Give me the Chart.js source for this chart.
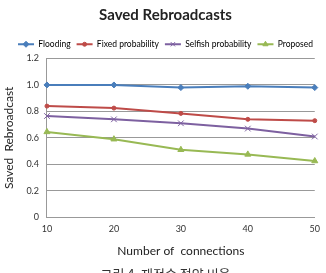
<!DOCTYPE html>
<html>
<head>
<meta charset="utf-8">
<script src="https://cdn.jsdelivr.net/npm/chart.js@4.4.1/dist/chart.umd.min.js"></script>
<style>
  html, body { margin: 0; padding: 0; background: #fff; overflow: hidden; }
  #wrap { width: 326px; height: 273px; overflow: hidden; }
</style>
</head>
<body>
<div id="wrap"><canvas id="chart" width="326" height="282"></canvas></div>
<script>
const connections = ["10", "20", "30", "40", "50"];
const flooding = [1.0, 1.0, 0.98, 0.99, 0.98];
const fixedProb = [0.84, 0.825, 0.785, 0.74, 0.73];
const selfishProb = [0.765, 0.74, 0.71, 0.67, 0.61];
const proposed = [0.645, 0.59, 0.51, 0.475, 0.425];
const yTicks = [0, 0.2, 0.4, 0.6, 0.8, 1, 1.2];

const font = "Lato, 'Open Sans', sans-serif";

function series(label, data, color, style, radius) {
  return {
    label: label,
    data: data,
    borderColor: color,
    backgroundColor: color,
    borderWidth: 2,
    pointStyle: style,
    pointRadius: radius,
    pointBorderWidth: 1,
    tension: 0,
    fill: false
  };
}

// draw the series marker on top of the legend line
const legendMarkers = {
  id: "legendMarkers",
  afterDraw(chart) {
    const legend = chart.legend;
    const ctx = chart.ctx;
    legend.legendItems.forEach((item, i) => {
      const box = legend.legendHitBoxes[i];
      const ds = chart.data.datasets[i];
      const x = box.left + legend.options.labels.boxWidth / 2;
      const y = box.top + box.height / 2;
      ctx.save();
      ctx.fillStyle = ds.backgroundColor;
      ctx.strokeStyle = ds.borderColor;
      ctx.lineWidth = 1;
      Chart.helpers.drawPoint(ctx, {
        pointStyle: ds.pointStyle,
        radius: Math.min(ds.pointRadius, 3),
        borderWidth: 1,
        rotation: 0
      }, x, y);
      ctx.restore();
    });
  }
};

new Chart(document.querySelector("#chart"), {
  type: "line",
  data: {
    labels: connections,
    datasets: [
      series("Flooding", flooding, "#4a7ebb", "rectRot", 3),
      series("Fixed probability", fixedProb, "#be4b48", "circle", 2),
      series("Selfish probability", selfishProb, "#7d60a0", "crossRot", 4),
      series("Proposed", proposed, "#98b954", "triangle", 3.5)
    ]
  },
  options: {
    responsive: false,
    animation: false,
    layout: { padding: { left: 2, right: -3, top: 2, bottom: 0 } },
    plugins: {
      title: {
        display: true,
        text: "Saved Rebroadcasts",
        color: "#222",
        font: { family: font, size: 15, weight: "bold" },
        padding: { top: 4, bottom: 10 }
      },
      subtitle: {
        display: true,
        position: "bottom",
        text: "그림 4. 재전송 절약 비율",
        color: "#333",
        font: { family: "'Noto Sans CJK KR', sans-serif", size: 13 },
        padding: { top: 7, bottom: 0 }
      },
      legend: {
        labels: {
          boxWidth: 16,
          boxHeight: 2,
          padding: 6,
          color: "#333",
          font: { family: font, size: 8.5 },
          generateLabels(chart) {
            return chart.data.datasets.map((ds, i) => ({
              text: ds.label,
              fillStyle: ds.borderColor,
              strokeStyle: ds.borderColor,
              lineWidth: 0,
              datasetIndex: i
            }));
          }
        }
      },
      tooltip: { enabled: false }
    },
    scales: {
      x: {
        offset: false,
        grid: { display: false, drawTicks: false },
        border: { color: "#999" },
        ticks: { color: "#333", font: { family: font, size: 9 }, padding: 6 },
        title: {
          display: true,
          text: "Number of  connections",
          color: "#222",
          font: { family: font, size: 12 },
          padding: { top: 4, bottom: 1 }
        }
      },
      y: {
        min: 0,
        max: 1.2,
        afterBuildTicks(axis) { axis.ticks = yTicks.map(v => ({ value: v })); },
        grid: { color: "#999", drawTicks: false },
        border: { color: "#999" },
        ticks: { color: "#333", font: { family: font, size: 9 }, padding: 8 },
        title: {
          display: true,
          text: "Saved  Rebroadcast",
          color: "#222",
          font: { family: font, size: 12 },
          padding: { top: 0, bottom: 2 }
        }
      }
    }
  },
  plugins: [legendMarkers]
});
</script>
</body>
</html>
